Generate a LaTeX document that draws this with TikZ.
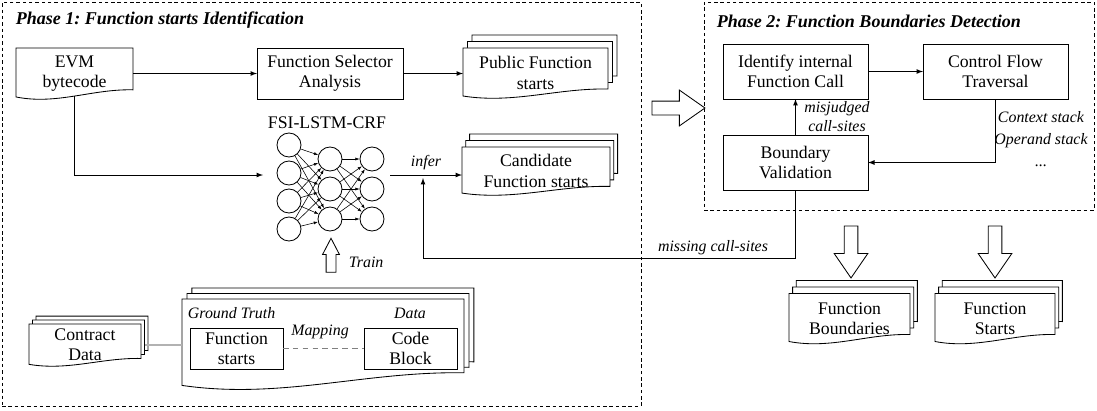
\documentclass[tikz,border=0pt]{standalone}
\usepackage{fontspec}
\setmainfont{Liberation Serif}
\usetikzlibrary{					% libraries
arrows,
arrows.meta,
fit,
calc,
backgrounds,
shapes.arrows
}
\tikzset{
block_doc_line/.style={draw=black, fill=white, line width=0.6pt}
}
% document outline with wavy bottom, shifted by #2
\newcommand{\docpath}[2]{%
\path[block_doc_line] let \p1=($(#1.north west)+(#2)$), \p2=($(#1.south east)+(#2)$) in
 (\x1,\y1) -- (\x2,\y1) -- (\x2,{\y2+0.18*(\y1-\y2)})
 .. controls ({\x2-0.35*(\x2-\x1)},{\y2+0.2*(\y1-\y2)}) and ({\x1+0.35*(\x2-\x1)},{\y2-0.12*(\y1-\y2)}) .. (\x1,{\y2+0.04*(\y1-\y2)}) -- cycle;}
\newcommand{\docstack}[3]{\docpath{#1}{2*#2,2*#3}\docpath{#1}{#2,#3}\docpath{#1}{0pt,0pt}}

\begin{document}
\begin{tikzpicture}
[x=0.025cm, y=-0.025cm,
font=\fontsize{12.6}{14.4}\selectfont,
block_normal/.style ={rectangle, draw, fill=white, align=center, inner sep=0, outer sep=0, line width=0.6pt},
block_doc/.style ={rectangle, draw=none, align=center, inner sep=0, outer sep=0},
block_phase/.style ={rectangle, draw, inner sep=0, dash pattern=on 2.5pt off 2pt, line width=0.6pt},
block_title/.style ={anchor=west, font=\fontsize{12.8}{15}\selectfont\bfseries\itshape},
block_label/.style ={font=\fontsize{11.3}{13.5}\selectfont\itshape, align=center},
block_arrow/.style ={single arrow, draw, fill=white, inner xsep=0, line width=0.6pt},
neuron/.style ={circle, draw, minimum size=0.6cm, inner sep=0, line width=0.6pt},
line_inner/.style ={draw, -latex, line width=0.6pt},
line_nn/.style ={draw, -{Latex[length=3pt,width=2.2pt]}, line width=0.4pt},
line_gray/.style ={draw, gray!60, line width=0.8pt},
line_map/.style ={draw, gray, dash pattern=on 4pt off 3pt, line width=0.6pt}
]
\useasboundingbox (0,0) rectangle (1097,410);

% phase 1
\node[block_title] (title1) at (11,20) {Phase 1:\ Function starts Identification};
\node[block_doc, minimum width=2.925cm, minimum height=1.275cm] (evm) at (74.5,73.5) {EVM\\bytecode};
\node[block_normal, minimum width=3.65cm, minimum height=1.275cm] (fsa) at (330,73.5) {Function Selector\\Analysis};
\node[block_doc, minimum width=3.625cm, minimum height=1.25cm] (pub) at (535.5,73) {Public Function\\starts};
\node[block_doc, minimum width=3.7cm, minimum height=1.2cm] (cand) at (536,171) {Candidate\\Function starts};
\node[block_doc, minimum width=2.8cm, minimum height=1.05cm] (contract) at (85,345) {Contract\\Data};
\node[block_doc, fit={(182,299)(464,389)}] (gt) {};
\node[block_label, anchor=west] (gt_truth) at (183,313) {Ground Truth};
\node[block_label] (gt_data) at (410,313) {Data};
\node[block_normal, minimum width=2.325cm, minimum height=1.025cm] (fstarts) at (236.5,348.5) {Function\\starts};
\node[block_normal, minimum width=2.325cm, minimum height=1.025cm] (code) at (410.5,348.5) {Code\\Block};
\node[block_label] (mapping) at (320,332) {Mapping};

% network
\node (fsi) at (327,123) {FSI-LSTM-CRF};
\foreach \i/\y in {1/145,2/173,3/201,4/229}
  \node[neuron] (a\i) at (289,\y) {};
\foreach \i/\y in {1/159,2/189,3/219}{
  \node[neuron] (b\i) at (330,\y) {};
  \node[neuron] (c\i) at (372,\y) {};
}
\foreach \i in {1,...,4}
  \foreach \j in {1,2,3}
    \draw[line_nn] (a\i) -- (b\j);
\foreach \i in {1,2,3}
  \foreach \j in {1,2,3}
    \draw[line_nn] (b\i) -- (c\j);

% phase 2
\node[block_title] (title2) at (712,21) {Phase 2:\ Function Boundaries Detection};
\node[block_normal, minimum width=3.625cm, minimum height=1.375cm] (ident) at (795.5,71.5) {Identify internal\\Function Call};
\node[block_normal, minimum width=3.625cm, minimum height=1.375cm] (cf) at (995.5,71.5) {Control Flow\\Traversal};
\node[block_normal, minimum width=3.625cm, minimum height=1.375cm] (bv) at (795.5,162.5) {Boundary\\Validation};
\node[block_label] (misjudged) at (837,117) {misjudged\\call-sites};
\node[block_label, font=\fontsize{11.3}{15.6}\selectfont\itshape] (stacks) at (1041,139) {Context stack\\Operand stack\\...};
\node[block_doc, minimum width=3.025cm, minimum height=1.25cm] (fb) at (849.5,318.5) {Function\\Boundaries};
\node[block_doc, minimum width=3cm, minimum height=1.25cm] (fs) at (995,318.5) {Function\\Starts};
\node[block_label] (missing) at (713,248) {missing call-sites};

%%Block arrows%%%
\node[block_arrow, rotate=90, minimum height=0.85cm, inner ysep=0.1125cm, single arrow head extend=0.0875cm, single arrow tip angle=55] (train_arrow) at (331,260) {};
\node[block_label, anchor=west] (train) at (344,262) {Train};
\node[block_arrow, minimum height=1.325cm, inner ysep=0.1625cm, single arrow head extend=0.275cm, single arrow tip angle=70] (phase_arrow) at (673.5,108) {};
\node[block_arrow, rotate=-90, minimum height=1.3cm, inner ysep=0.16cm, single arrow head extend=0.25cm, single arrow tip angle=69] (out_arrow1) at (851,247) {};
\node[block_arrow, rotate=-90, minimum height=1.3cm, inner ysep=0.16cm, single arrow head extend=0.25cm, single arrow tip angle=69] (out_arrow2) at (995,247) {};

%%Arrows%%%
\coordinate (nn_in) at (263,175);
\coordinate (nn_out) at (390,175);
\coordinate (infer_pt) at (423,178);
\draw[line_inner] (evm.east) -- (fsa.west);
\draw[line_inner] (fsa.east) -- (fsa.east -| pub.west);
\draw[line_inner] ([yshift=2.1pt]evm.south) |- (nn_in);
\draw[line_inner] (nn_out) -- (nn_out -| cand.west) node[block_label, midway, above] (infer) {infer};
\draw[line_inner] (bv.south) |- ($(infer_pt)+(0,80)$) -- (infer_pt);
\draw[line_inner] (bv.north) -- (ident.south);
\draw[line_inner] (ident.east) -- (cf.west);
\draw[line_inner] (cf.south) |- (bv.east);
\draw[line_gray] ([xshift=3pt]contract.east) -- (contract.east -| gt.west);
\draw[line_map] (fstarts) -- (code);

%%%Background%%%%
\begin{scope}[on background layer]
\node[block_phase, fit={(2,2)(641,406)}] (phase1) {};
\node[block_phase, fit={(704,2)(1094,210)}] (phase2) {};
\docpath{evm}{0pt,0pt}
\docstack{pub}{3.2pt}{4.6pt}
\docstack{cand}{2.7pt}{4.6pt}
\docstack{contract}{2.5pt}{2.8pt}
\docstack{gt}{3.5pt}{3.9pt}
\docstack{fb}{2.6pt}{4.6pt}
\docstack{fs}{2.6pt}{4.6pt}
\end{scope}
\end{tikzpicture}
\end{document}
